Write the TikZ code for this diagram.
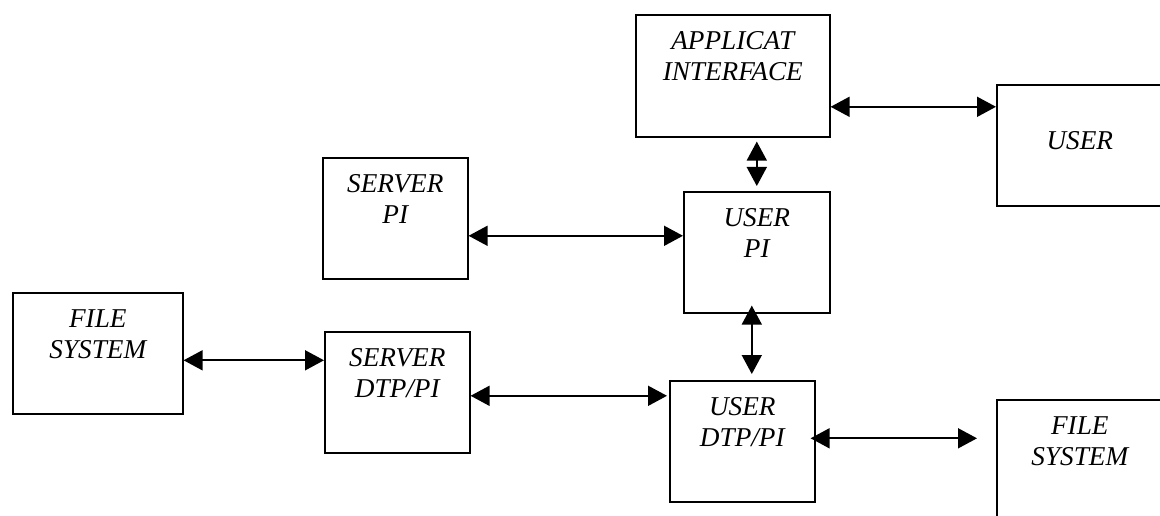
\documentclass[tikz,border=0pt]{standalone}
\usepackage{fontspec}
\setmainfont{Liberation Serif}
\usetikzlibrary{arrows.meta}
\tikzset{
  box/.style={draw=black, line width=1.6pt, fill=none, inner sep=0pt, anchor=north west},
  lbl/.style={font=\itshape\fontsize{27.2}{31}\selectfont, align=center, inner sep=0pt, text=black},
  dbl/.style={line width=1.7pt, {Triangle[length=19pt,width=20pt]}-{Triangle[length=19pt,width=20pt]}},
}
\begin{document}
\begin{tikzpicture}[x=1pt,y=-1pt]
\clip (0,0) rectangle (1160,516);
\fill[white] (0,0) rectangle (1160,516);
% boxes
\node[box, minimum width=194pt, minimum height=122pt] (ai) at (635,14) {};
\node[box, minimum width=166pt, minimum height=121pt] (user) at (996,84) {};
\node[box, minimum width=145pt, minimum height=121pt] (spi) at (322,157) {};
\node[box, minimum width=146pt, minimum height=121pt] (upi) at (683,191) {};
\node[box, minimum width=170pt, minimum height=121pt] (fsl) at (12,292) {};
\node[box, minimum width=145pt, minimum height=121pt] (sdtp) at (324,331) {};
\node[box, minimum width=145pt, minimum height=121pt] (udtp) at (669,380) {};
\node[box, minimum width=166pt, minimum height=135pt] (fsr) at (996,399) {};
% labels
\node[lbl, anchor=north] (ai-t) at ([yshift=-17pt]ai.north) {APPLICAT\\INTERFACE};
\node[lbl, anchor=base] (user-t) at ([yshift=-66pt]user.north) {USER};
\node[lbl, anchor=north] (spi-t) at ([yshift=-17pt]spi.north) {SERVER\\PI};
\node[lbl, anchor=north] (upi-t) at ([yshift=-17pt]upi.north) {USER\\PI};
\node[lbl, anchor=north] (fsl-t) at ([yshift=-17pt]fsl.north) {FILE\\SYSTEM};
\node[lbl, anchor=north] (sdtp-t) at ([yshift=-17pt]sdtp.north) {SERVER\\DTP/PI};
\node[lbl, anchor=north] (udtp-t) at ([yshift=-17pt]udtp.north) {USER\\DTP/PI};
\node[lbl, anchor=north] (fsr-t) at ([yshift=-17pt]fsr.north) {FILE\\SYSTEM};
% connectors
\coordinate (a1) at ([yshift=-31pt]ai.east);
\draw[dbl] (a1) -- (a1 -| user.west);
\draw[dbl, shorten <=5pt, shorten >=4pt] (upi.north) -- (upi.north |- ai.south);
\coordinate (a2) at ([yshift=-17.5pt]spi.east);
\draw[dbl] (a2) -- (a2 -| upi.west);
\coordinate (a3) at ([xshift=-5pt]upi.south);
\draw[dbl, shorten <=-8pt, shorten >=6pt] (a3) -- (a3 |- udtp.north);
\coordinate (a4) at ([yshift=-7pt]fsl.east);
\draw[dbl] (a4) -- (a4 -| sdtp.west);
\coordinate (a5) at ([yshift=-3.5pt]sdtp.east);
\draw[dbl, shorten >=2pt] (a5) -- (a5 -| udtp.west);
\coordinate (a6) at ([yshift=3pt]udtp.east);
\draw[dbl, shorten <=-5pt, shorten >=19pt] (a6) -- (a6 -| fsr.west);
\end{tikzpicture}
\end{document}
